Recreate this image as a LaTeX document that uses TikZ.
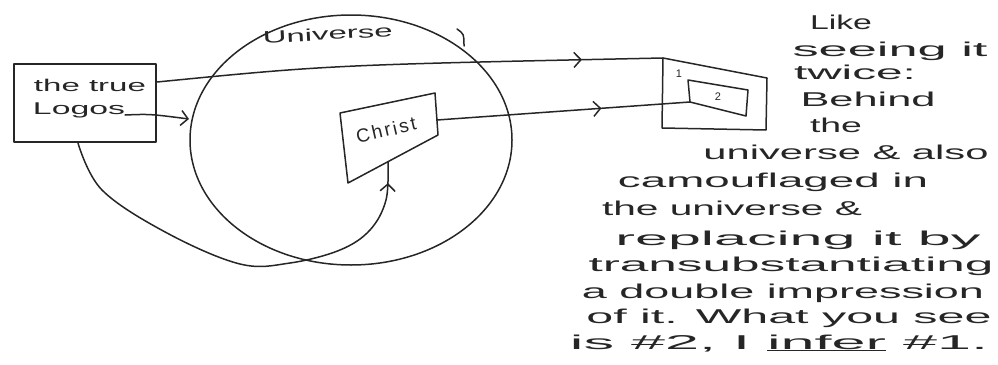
\documentclass[tikz,border=0pt]{standalone}
\usepackage{fontspec}
\setmainfont{Liberation Sans}
\usetikzlibrary{arrows.meta,decorations.markings,shapes.geometric}
\newcommand{\hwtext}[2]{\resizebox{#1pt}{\height}{#2}}
\begin{document}
\begin{tikzpicture}[x=1pt,y=-1pt,
  pen/.style={line width=1.5pt,draw=black!85,line cap=round,line join=round},
  >={Straight Barb[length=7pt,width=15pt,line width=1.5pt]},
  midarrow/.style={postaction={decorate},decoration={markings,mark=at position #1 with {\arrow[black!85]{>}}}},
  hand/.style={font=\fontsize{20}{22}\selectfont,inner sep=0pt,text=black!85,anchor=base},
  small/.style={font=\fontsize{17}{19}\selectfont,inner sep=0pt,text=black!85,anchor=base},
]
\useasboundingbox (0,0) rectangle (998,364);

% universe
\node[pen,ellipse,minimum width=322pt,minimum height=250pt,inner sep=0pt] (univ) at (351,140) {};
\node[small,rotate=3] (univlab) at (328,40) {\hwtext{130}{Universe}};
\draw[pen] (457,29) .. controls (464,34) .. (464,46);

% logos box
\node[pen,rectangle,minimum width=142pt,minimum height=78pt,inner sep=0pt] (logos) at (85,103) {};
\node[small] (logos1) at (90,91) {\hwtext{112}{the true}};
\node[small] (logos2) at (79,114) {\hwtext{92}{Logos}};

% christ box
\coordinate (c1) at (340,113);
\coordinate (c2) at (435,93);
\coordinate (c3) at (438,135);
\coordinate (c4) at (348,183);
\draw[pen] (c1) -- (c2) -- (c3) -- (c4) -- cycle;
\node[font=\fontsize{19}{21}\selectfont\addfontfeatures{LetterSpace=12},inner sep=0pt,text=black!85,rotate=13] (christ) at (386,130) {Christ};

% box 1 and box 2
\coordinate (b1a) at (663,58);
\coordinate (b1b) at (767,78);
\coordinate (b1c) at (766,130);
\coordinate (b1d) at (662,128);
\draw[pen] (b1a) -- (b1b) -- (b1c) -- (b1d) -- cycle;
\node[font=\fontsize{11}{12}\selectfont,text=black!85,inner sep=0pt] (one) at (679,74) {1};
\coordinate (b2a) at (688,80);
\coordinate (b2b) at (748,90);
\coordinate (b2c) at (746,116);
\coordinate (b2d) at (690,102);
\draw[pen] (b2a) -- (b2b) -- (b2c) -- (b2d) -- cycle;
\node[font=\fontsize{11}{12}\selectfont,text=black!85,inner sep=0pt] (two) at (718,97) {2};

% connectors
\coordinate (lstart) at (157,82);
\draw[pen,midarrow=0.84] (lstart) .. controls (330,65) .. (b1a);
\coordinate (cstart) at (437,120);
\draw[pen,midarrow=0.65] (cstart) -- (b2d);
\coordinate (lmid) at (125,115);
\coordinate (uwest) at (189,119);
\draw[pen,->] (lmid) .. controls (150,114) .. (uwest);
\coordinate (lbot) at (78,143);
\coordinate (cbot) at (388,162);
\draw[pen,midarrow=0.95] plot[smooth,tension=0.6] coordinates {(lbot) (102,190) (167,233) (240,264) (290,263) (340,250) (370,230) (386,200) (cbot)};

% text
\node[hand] (t1) at (841,29) {\hwtext{62}{Like}};
\node[hand] (t2) at (890,56) {\hwtext{195}{seeing it}};
\node[hand] (t3) at (855,79) {\hwtext{122}{twice:}};
\node[hand] (t4) at (868,106) {\hwtext{135}{Behind}};
\node[hand] (t5) at (836,132) {\hwtext{52}{the}};
\node[hand] (t6) at (846,159) {\hwtext{285}{universe \& also}};
\node[hand] (t7) at (773,187) {\hwtext{310}{camouflaged in}};
\node[hand] (t8) at (732,215) {\hwtext{260}{the universe \&}};
\node[hand] (t9) at (798,245) {\hwtext{365}{replacing it by}};
\node[hand] (t10) at (791,271) {\hwtext{405}{transubstantiating}};
\node[hand] (t11) at (783,298) {\hwtext{402}{a double impression}};
\node[hand] (t12) at (789,323) {\hwtext{405}{of it. What you see}};
\node[hand] (t13) at (779,349) {\hwtext{418}{is \#2, I \underline{infer} \#1.}};
\end{tikzpicture}
\end{document}
